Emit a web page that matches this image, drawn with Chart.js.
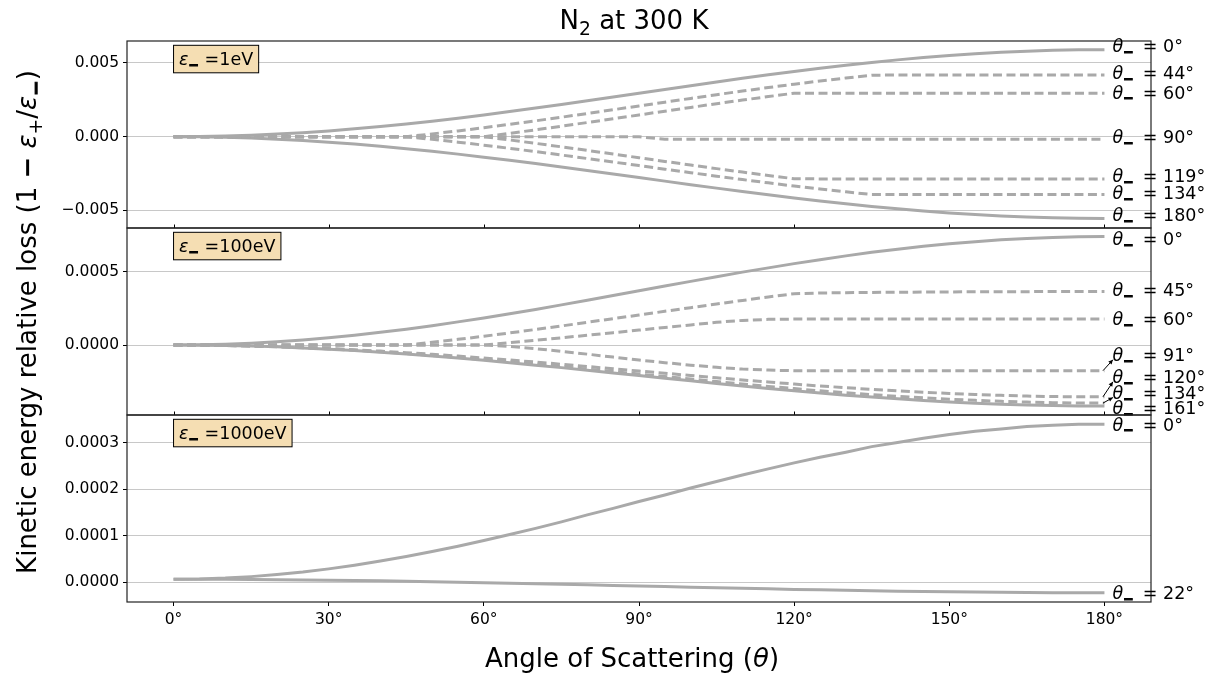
<!DOCTYPE html>
<html>
<head>
<meta charset="utf-8">
<script src="https://cdn.jsdelivr.net/npm/chart.js@4.4.1/dist/chart.umd.min.js"></script>
<style>
  body { margin: 0; background: #fff; }
  #wrap { position: relative; width: 1217px; height: 680px; }
  #wrap canvas { position: absolute; left: 0; top: 0; }
</style>
</head>
<body>
<div id="wrap">
  <canvas id="c1" width="1217" height="680"></canvas>
  <canvas id="c2" width="1217" height="680"></canvas>
  <canvas id="c3" width="1217" height="680"></canvas>
</div>
<script>
// scattering angle grid (deg) and axis ticks
var angles = [0,5,10,15,20,25,30,35,40,45,50,55,60,65,70,75,80,85,90,95,100,105,110,115,120,125,130,135,140,145,150,155,160,165,170,175,180];
var xTicks = [0,30,60,90,120,150,180];

// ---- eps_- = 1 eV ----
var thetas_1eV = [0,44,60,90,119,134,180];
var loss_1eV_0 = [0,0.0000112,0.0000448,0.000101,0.000178,0.000276,0.000395,0.000533,0.00069,0.000864,0.001054,0.001258,0.001475,0.001703,0.001941,0.002187,0.002438,0.002693,0.00295,0.003207,0.003462,0.003713,0.003959,0.004197,0.004425,0.004642,0.004846,0.005036,0.00521,0.005367,0.005505,0.005624,0.005722,0.005799,0.005855,0.005889,0.0059];
var loss_1eV_44 = [0,0,0,0,0,0,0,0,0,0,0.00019,0.000394,0.000611,0.000839,0.001077,0.001322,0.001574,0.001829,0.002086,0.002343,0.002598,0.002849,0.003095,0.003333,0.003561,0.003778,0.003982,0.004172,0.00418,0.00418,0.00418,0.00418,0.00418,0.00418,0.00418,0.00418,0.00418];
var loss_1eV_60 = [0,0,0,0,0,0,0,0,0,0,0,0,0,0.000228,0.000466,0.000712,0.000963,0.001218,0.001475,0.001732,0.001987,0.002238,0.002484,0.002722,0.00295,0.00295,0.00295,0.00295,0.00295,0.00295,0.00295,0.00295,0.00295,0.00295,0.00295,0.00295,0.00295];
var loss_1eV_90 = [0,0,0,0,0,0,0,0,0,0,0,0,0,0,0,0,0,0,0,-0.00017,-0.00017,-0.00017,-0.00017,-0.00017,-0.00017,-0.00017,-0.00017,-0.00017,-0.00017,-0.00017,-0.00017,-0.00017,-0.00017,-0.00017,-0.00017,-0.00017,-0.00017];
var loss_1eV_119 = [0,0,0,0,0,0,0,0,0,0,0,0,0,-0.000221,-0.00045,-0.000687,-0.00093,-0.001176,-0.001425,-0.001674,-0.00192,-0.002163,-0.0024,-0.002629,-0.00285,-0.00286,-0.00286,-0.00286,-0.00286,-0.00286,-0.00286,-0.00286,-0.00286,-0.00286,-0.00286,-0.00286,-0.00286];
var loss_1eV_134 = [0,0,0,0,0,0,0,0,0,0,-0.000178,-0.00037,-0.000574,-0.000788,-0.001011,-0.001242,-0.001478,-0.001717,-0.001959,-0.0022,-0.00244,-0.002676,-0.002906,-0.003129,-0.003344,-0.003548,-0.003739,-0.003917,-0.00392,-0.00392,-0.00392,-0.00392,-0.00392,-0.00392,-0.00392,-0.00392,-0.00392];
var loss_1eV_180 = [0,-0.0000105,-0.0000421,-0.0000945,-0.000167,-0.00026,-0.000371,-0.000501,-0.000648,-0.000811,-0.000989,-0.001181,-0.001385,-0.001599,-0.001823,-0.002053,-0.002289,-0.002528,-0.00277,-0.003012,-0.003251,-0.003487,-0.003717,-0.003941,-0.004155,-0.004359,-0.004551,-0.004729,-0.004892,-0.005039,-0.005169,-0.00528,-0.005373,-0.005446,-0.005498,-0.005529,-0.00554];
var yTicks_1eV = [-0.005, 0, 0.005];

// ---- eps_- = 100 eV ----
var thetas_100eV = [0,45,60,91,120,134,161];
var loss_100eV_0 = [0,0.0000014,0.0000056,0.0000126,0.0000223,0.0000347,0.0000496,0.0000669,0.0000866,0.000108,0.000132,0.000158,0.000185,0.000214,0.000243,0.000274,0.000306,0.000338,0.00037,0.000402,0.000434,0.000466,0.000497,0.000526,0.000555,0.000582,0.000608,0.000632,0.000653,0.000673,0.00069,0.000705,0.000718,0.000727,0.000734,0.000739,0.00074];
var loss_100eV_45 = [0,0,0,0,0,0,0,0,0,0,0.0000186,0.0000387,0.0000601,0.0000825,0.000106,0.00013,0.000155,0.00018,0.000205,0.00023,0.000255,0.00028,0.000304,0.000328,0.00035,0.000355,0.000357,0.000359,0.00036,0.000361,0.000362,0.000363,0.000364,0.000364,0.000365,0.000365,0.000365];
var loss_100eV_60 = [0,0,0,0,0,0,0,0,0,0,0,0,0,0.0000158,0.0000322,0.0000492,0.0000666,0.0000842,0.000102,0.00012,0.000137,0.000155,0.000168,0.000175,0.000177,0.000177,0.000177,0.000177,0.000177,0.000177,0.000177,0.000177,0.000177,0.000177,0.000177,0.000177,0.000177];
var loss_100eV_91 = [0,0,0,0,0,0,0,0,0,0,0,0,0,-0.00001,-0.000025,-0.000043,-0.000062,-0.000082,-0.000102,-0.00012,-0.000137,-0.000152,-0.000164,-0.000171,-0.000175,-0.000175,-0.000175,-0.000175,-0.000175,-0.000175,-0.000175,-0.000175,-0.000175,-0.000175,-0.000175,-0.000175,-0.000175];
var loss_100eV_120 = [0,-0.0000007,-0.0000027,-0.000006,-0.0000107,-0.0000166,-0.0000237,-0.000032,-0.0000414,-0.0000518,-0.0000632,-0.0000755,-0.0000885,-0.000102,-0.000116,-0.000131,-0.000146,-0.000162,-0.000177,-0.000192,-0.000208,-0.000223,-0.000238,-0.000252,-0.000266,-0.000279,-0.000291,-0.000302,-0.000313,-0.000322,-0.00033,-0.000337,-0.000343,-0.000348,-0.000351,-0.000353,-0.000353];
var loss_100eV_134 = [0,-0.0000008,-0.000003,-0.0000068,-0.0000119,-0.0000186,-0.0000265,-0.0000358,-0.0000463,-0.000058,-0.0000707,-0.0000844,-0.000099,-0.000114,-0.00013,-0.000147,-0.000164,-0.000181,-0.000198,-0.000215,-0.000232,-0.000249,-0.000266,-0.000282,-0.000297,-0.000312,-0.000325,-0.000338,-0.00035,-0.00036,-0.000369,-0.000377,-0.000384,-0.000389,-0.000393,-0.000395,-0.000396];
var loss_100eV_161 = [0,-0.0000008,-0.0000032,-0.0000071,-0.0000125,-0.0000195,-0.0000279,-0.0000376,-0.0000487,-0.0000609,-0.0000743,-0.0000887,-0.000104,-0.00012,-0.000137,-0.000154,-0.000172,-0.00019,-0.000208,-0.000226,-0.000244,-0.000262,-0.000279,-0.000296,-0.000312,-0.000327,-0.000342,-0.000355,-0.000367,-0.000378,-0.000388,-0.000397,-0.000403,-0.000409,-0.000413,-0.000415,-0.000416];
var yTicks_100eV = [0, 0.0005];

// ---- eps_- = 1000 eV ----
var thetas_1000eV = [0,22];
var loss_1000eV_0 = [0.0000065,0.0000071,0.000009,0.0000122,0.0000166,0.0000221,0.0000289,0.0000367,0.0000456,0.0000554,0.0000662,0.0000777,0.00009,0.000103,0.000116,0.00013,0.000145,0.000159,0.000174,0.000188,0.000203,0.000217,0.000231,0.000244,0.000257,0.000269,0.00028,0.000292,0.000301,0.00031,0.000318,0.000325,0.00033,0.000335,0.000338,0.00034,0.00034];
var loss_1000eV_22 = [0.0000065,0.0000065,0.0000063,0.000006,0.0000056,0.0000051,0.0000046,0.0000039,0.0000031,0.0000023,0.0000013,0.0000003,-0.0000008,-0.000002,-0.0000031,-0.0000043,-0.0000055,-0.0000067,-0.000008,-0.0000093,-0.0000105,-0.0000117,-0.0000128,-0.0000141,-0.0000153,-0.0000163,-0.0000173,-0.0000183,-0.0000191,-0.0000198,-0.0000206,-0.0000211,-0.0000216,-0.000022,-0.0000223,-0.0000224,-0.0000225];
var yTicks_1000eV = [0, 0.0001, 0.0002, 0.0003];

var FONT = '"DejaVu Sans", sans-serif';
var GREY = '#a9a9a9';
Chart.defaults.font.family = FONT;

var panels = [
  { canvas: 'c1', energy: '1eV', thetas: thetas_1eV,
    series: [loss_1eV_0, loss_1eV_44, loss_1eV_60, loss_1eV_90, loss_1eV_119, loss_1eV_134, loss_1eV_180],
    dashed: [false, true, true, true, true, true, false],
    yMin: -0.00619, yMax: 0.00649, yTicks: yTicks_1eV, dec: 3, top: 41, bottom: 228,
    nudge: [-4, -2.6, -1, -2.3, -3.3, -2, -3.7], arrows: [] },
  { canvas: 'c2', energy: '100eV', thetas: thetas_100eV,
    series: [loss_100eV_0, loss_100eV_45, loss_100eV_60, loss_100eV_91, loss_100eV_120, loss_100eV_134, loss_100eV_161],
    dashed: [false, true, true, true, true, true, false],
    yMin: -0.000477, yMax: 0.000798, yTicks: yTicks_100eV, dec: 4, top: 228, bottom: 415,
    nudge: [2.5, -1.5, -0.7, -16, -20, -10.6, 1.7], arrows: [false, false, false, true, true, true, false] },
  { canvas: 'c3', energy: '1000eV', thetas: thetas_1000eV,
    series: [loss_1000eV_0, loss_1000eV_22],
    dashed: [false, false],
    yMin: -0.0000424, yMax: 0.00036, yTicks: yTicks_1000eV, dec: 4, top: 415, bottom: 602,
    nudge: [0, 0], arrows: [], last: true }
];

function fmt(v, d) {
  var s = Math.abs(v).toFixed(d);
  return (v < -1e-12 ? '\u2212' : '') + s;
}

// draws text made of pieces (italic / subscript) with its vertical centre at cy
function drawMath(ctx, parts, x, cy, size, align) {
  var base = cy + 0.36 * size, w = 0, items = [];
  parts.forEach(function (p) {
    var fs = p.sub ? size * 0.72 : size;
    var font = (p.it ? 'italic ' : '') + (p.bold ? 'bold ' : '') + fs + 'px ' + FONT;
    ctx.font = font;
    var wd = ctx.measureText(p.t).width;
    items.push({ t: p.t, font: font, w: wd, dy: p.sub ? 0.22 * size : 0, heavy: p.heavy });
    w += wd;
  });
  var sx = align === 'center' ? x - w / 2 : (align === 'right' ? x - w : x);
  ctx.textAlign = 'left';
  ctx.textBaseline = 'alphabetic';
  items.forEach(function (it) {
    ctx.font = it.font;
    ctx.fillText(it.t, sx, base + it.dy);
    if (it.heavy) {
      ctx.strokeStyle = ctx.fillStyle; ctx.lineWidth = 0.9;
      ctx.strokeText(it.t, sx, base + it.dy);
    }
    sx += it.w;
  });
  return w;
}

function arrow(ctx, x1, y1, x2, y2) {
  ctx.strokeStyle = '#000'; ctx.fillStyle = '#000'; ctx.lineWidth = 1;
  ctx.beginPath(); ctx.moveTo(x1, y1); ctx.lineTo(x2, y2); ctx.stroke();
  var ang = Math.atan2(y2 - y1, x2 - x1), L = 5;
  ctx.beginPath();
  ctx.moveTo(x2, y2);
  ctx.lineTo(x2 - L * Math.cos(ang - 0.45), y2 - L * Math.sin(ang - 0.45));
  ctx.lineTo(x2 - L * Math.cos(ang + 0.45), y2 - L * Math.sin(ang + 0.45));
  ctx.closePath(); ctx.fill();
}

var SUBMINUS = { t: '\u2212', sub: 1, bold: 1, heavy: 1 };

function makeDeco(p) {
  return {
    id: 'deco_' + p.canvas,
    afterDraw: function (chart) {
      var ctx = chart.ctx, a = chart.chartArea, xs = chart.scales.x, ys = chart.scales.y;
      ctx.save();
      // frame
      ctx.strokeStyle = '#222'; ctx.lineWidth = 1.2;
      ctx.strokeRect(a.left, a.top, a.right - a.left, a.bottom - a.top);
      // small tick marks on inner panel edges
      if (!p.last) {
        ctx.strokeStyle = '#000'; ctx.lineWidth = 1;
        xTicks.forEach(function (v) {
          var x = Math.round(xs.getPixelForValue(v)) + 0.5;
          ctx.beginPath(); ctx.moveTo(x, a.bottom - 3.5); ctx.lineTo(x, a.bottom); ctx.stroke();
        });
      }
      // energy box
      var boxParts = [{ t: '\u03b5', it: 1 }, SUBMINUS, { t: ' =' + p.energy }];
      var bx = xs.getPixelForValue(0), by = a.top + 4.3, bh = 27.5, pad = 5.5;
      var tmp = document.createElement('canvas').getContext('2d');
      var tw = drawMath(tmp, boxParts, 0, 0, 17.5, 'left');
      ctx.fillStyle = '#f5deb3';
      ctx.fillRect(bx, by, tw + 2 * pad, bh);
      ctx.strokeStyle = '#000'; ctx.lineWidth = 1;
      ctx.strokeRect(bx, by, tw + 2 * pad, bh);
      ctx.fillStyle = '#000';
      drawMath(ctx, boxParts, bx + pad, by + bh / 2, 17.5, 'left');
      // right-hand curve labels
      var x180 = xs.getPixelForValue(180), lx = x180 + 8;
      p.thetas.forEach(function (th, i) {
        var s = p.series[i];
        var yEnd = ys.getPixelForValue(s[s.length - 1]);
        var ly = yEnd + p.nudge[i];
        ctx.fillStyle = '#000';
        drawMath(ctx, [{ t: '\u03b8', it: 1 }, SUBMINUS, { t: ' \u2009= ' + th + '\u00b0' }], lx, ly, 17.5, 'left');
        if (p.arrows[i]) arrow(ctx, x180 - 1.5, yEnd, lx + 0.5, ly + 5);
      });
      if (p.last) {
        ctx.fillStyle = '#000';
        drawMath(ctx, [{ t: 'N' }, { t: '2', sub: 1 }, { t: ' at 300 K' }], 634, 20, 26, 'center');
        drawMath(ctx, [{ t: 'Angle of Scattering (' }, { t: '\u03b8', it: 1 }, { t: ')' }], 632, 658, 26, 'center');
        ctx.save();
        ctx.translate(27, 322);
        ctx.rotate(-Math.PI / 2);
        drawMath(ctx, [{ t: 'Kinetic energy relative loss (1 ' }, { t: '\u2212', bold: 1 }, { t: ' ' },
          { t: '\u03b5', it: 1 }, { t: '+', sub: 1 }, { t: '/' }, { t: '\u03b5', it: 1 }, SUBMINUS, { t: ')' }],
          0, 0, 26, 'center');
        ctx.restore();
      }
      ctx.restore();
    }
  };
}

panels.forEach(function (p) {
  var datasets = p.series.map(function (s, i) {
    return {
      label: '\u03b8- = ' + p.thetas[i] + '\u00b0',
      data: angles.map(function (ang, k) { return { x: ang, y: s[k] }; }),
      borderColor: GREY,
      borderWidth: 3,
      borderDash: p.dashed[i] ? [9, 4.5] : [],
      pointRadius: 0,
      tension: 0,
      fill: false
    };
  });
  var xAxis = p.last ? {
    type: 'linear', min: -9, max: 189,
    afterBuildTicks: function (s) { s.ticks = xTicks.map(function (v) { return { value: v }; }); },
    afterFit: function (s) { s.height = 30; },
    ticks: { color: '#000', font: { size: 15.5 }, padding: 5, maxRotation: 0,
             callback: function (v) { return v + '\u00b0'; } },
    grid: { drawOnChartArea: false, drawTicks: true, tickLength: 4, tickColor: '#000' },
    border: { display: false }
  } : {
    type: 'linear', min: -9, max: 189,
    afterFit: function (s) { s.height = 0; },
    ticks: { display: false },
    grid: { display: false },
    border: { display: false }
  };
  new Chart(document.getElementById(p.canvas), {
    type: 'line',
    data: { datasets: datasets },
    options: {
      responsive: false,
      animation: false,
      devicePixelRatio: 1,
      layout: { padding: { left: 0, right: 66, top: p.top, bottom: p.last ? 680 - p.bottom - 30 : 680 - p.bottom } },
      plugins: { legend: { display: false }, tooltip: { enabled: false }, title: { display: false } },
      scales: {
        x: xAxis,
        y: {
          type: 'linear', min: p.yMin, max: p.yMax,
          afterBuildTicks: function (s) { s.ticks = p.yTicks.map(function (v) { return { value: v }; }); },
          afterFit: function (s) { s.width = 127; },
          ticks: { color: '#000', font: { size: 15.5 }, padding: 4,
                   callback: function (v) { return fmt(v, p.dec); } },
          grid: { color: '#c8c8c8', lineWidth: 1, drawTicks: true, tickLength: 4, tickColor: '#000' },
          border: { display: false }
        }
      }
    },
    plugins: [makeDeco(p)]
  });
});
</script>
</body>
</html>
